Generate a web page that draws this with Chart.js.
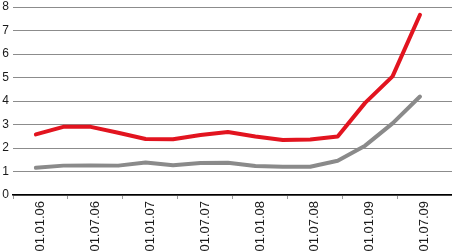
<!DOCTYPE html>
<html>
<head>
<meta charset="utf-8">
<script src="https://cdn.jsdelivr.net/npm/chart.js@4/dist/chart.umd.min.js"></script>
<style>
  html, body { margin: 0; padding: 0; background: #fff; }
  canvas { display: block; }
</style>
</head>
<body>
<canvas id="chart" width="452" height="252"></canvas>
<script>
// x values are months counted from 01.01.06
const tickLabels = ["01.01.06", "01.07.06", "01.01.07", "01.07.07", "01.01.08", "01.07.08", "01.01.09", "01.07.09"];
const labelMonths = [0, 6, 12, 18, 24, 30, 36, 42];
const markMonths = [-3, 3, 9, 15, 21, 27, 33, 39, 45];
const pointMonths = [-0.5, 2.5, 5.5, 8.5, 11.5, 14.5, 17.5, 20.5, 23.5, 26.5, 29.5, 32.5, 35.5, 38.5, 41.5];

const redValues = [2.58, 2.9, 2.9, 2.65, 2.38, 2.37, 2.55, 2.68, 2.49, 2.34, 2.36, 2.49, 3.92, 5.05, 7.67];
const grayValues = [1.16, 1.25, 1.26, 1.25, 1.38, 1.27, 1.36, 1.37, 1.23, 1.2, 1.2, 1.46, 2.1, 3.05, 4.19];

const yTicks = [0, 1, 2, 3, 4, 5, 6, 7, 8];

function toPoints(values) {
  return values.map((v, i) => ({ x: pointMonths[i], y: v }));
}

function labelFor(value) {
  const idx = labelMonths.indexOf(value);
  return idx >= 0 ? tickLabels[idx] : "";
}

const ctx = document.getElementById("chart");

new Chart(ctx, {
  type: "line",
  data: {
    datasets: [
      {
        label: "gray",
        data: toPoints(grayValues),
        borderColor: "#8a8a8a",
        borderWidth: 4,
        pointRadius: 0,
        tension: 0,
        borderCapStyle: "round",
        borderJoinStyle: "round"
      },
      {
        label: "red",
        data: toPoints(redValues),
        borderColor: "#e2141f",
        borderWidth: 4,
        pointRadius: 0,
        tension: 0,
        borderCapStyle: "round",
        borderJoinStyle: "round"
      }
    ]
  },
  options: {
    responsive: false,
    animation: false,
    layout: { padding: { top: 7, left: 0, right: 0, bottom: 0 } },
    plugins: {
      legend: { display: false },
      tooltip: { enabled: false }
    },
    scales: {
      x: {
        type: "linear",
        min: markMonths[0],
        max: markMonths[markMonths.length - 1],
        afterBuildTicks: scale => {
          const all = markMonths.concat(labelMonths).sort((a, b) => a - b);
          scale.ticks = all.map(v => ({ value: v }));
        },
        afterFit: scale => {
          scale.height = 57;
          scale.paddingLeft = 0;
          scale.paddingRight = 0;
        },
        ticks: {
          autoSkip: false,
          minRotation: 90,
          maxRotation: 90,
          padding: 2,
          color: "#1a1a1a",
          font: { family: "'Liberation Sans', Arial, sans-serif", size: 13 },
          callback: value => labelFor(value)
        },
        grid: {
          drawOnChartArea: false,
          drawTicks: true,
          tickLength: 4,
          color: c => markMonths.includes(c.tick.value) ? "#9a9a9a" : "rgba(0,0,0,0)"
        },
        border: { display: true, color: "#000", width: 1.5 }
      },
      y: {
        min: 0,
        max: 8,
        afterBuildTicks: scale => {
          scale.ticks = yTicks.map(v => ({ value: v }));
        },
        afterFit: scale => {
          scale.width = 13;
          scale.paddingTop = 0;
          scale.paddingBottom = 0;
        },
        ticks: {
          padding: 4,
          color: "#1a1a1a",
          font: { family: "'Liberation Sans', Arial, sans-serif", size: 12 }
        },
        grid: {
          drawTicks: false,
          color: "#8c8c8c",
          lineWidth: 1
        },
        border: { display: false }
      }
    }
  }
});
</script>
</body>
</html>
